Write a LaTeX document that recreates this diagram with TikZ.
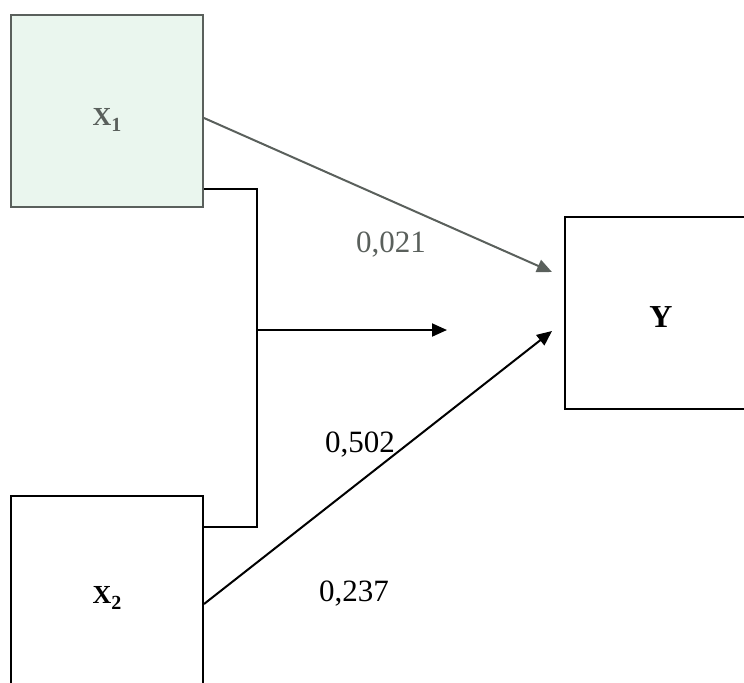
\documentclass[tikz,border=0pt]{standalone}
\usepackage{fontspec}
\setmainfont{Liberation Serif}
\usetikzlibrary{arrows.meta,calc}
\newcommand{\subidx}[1]{\raisebox{-3pt}{\fontsize{10}{12}\selectfont\bfseries #1}}
\begin{document}
\begin{tikzpicture}[x=0.5pt,y=-0.5pt,
  box/.style={draw, line width=1pt, minimum width=96pt, minimum height=96pt, inner sep=0pt},
  conn/.style={line width=1pt},
  arr/.style={conn, -{Triangle[length=7.5pt,width=6.5pt]}},
  coef/.style={font=\fontsize{15.5}{18}\selectfont, inner sep=0pt},
  var/.style={font=\fontsize{13}{16}\selectfont\bfseries, inner sep=0pt}]
\useasboundingbox (0,0) rectangle (744,682);
\definecolor{wm}{HTML}{EAF6EE}
\definecolor{dg}{HTML}{5A605C}
% boxes
\node[box, draw=dg, fill=wm] (X1) at (107,111) {};
\node[var, text=dg] (X1t) at (107,120) {X\subidx{1}};
\node[box] (X2) at (107,592) {};
\node[var] (X2t) at (107,598) {X\subidx{2}};
\node[box] (Y) at (661,313) {};
\node[var, font=\fontsize{16}{18}\selectfont\bfseries] (Yt) at (661,317) {Y};
% coordinates
\coordinate (a1) at ($(X1.east)+(0,7)$);
\coordinate (e1) at ($(Y.west)+(-12,-41)$);
\coordinate (a2) at ($(X2.east)+(0,12)$);
\coordinate (e2) at ($(Y.west)+(-12,18)$);
\coordinate (b1) at ($(X1.south east)+(0,-19)$);
\coordinate (b2) at ($(X2.north east)+(0,32)$);
\coordinate (j) at (257,330);
\coordinate (jend) at (447,330);
% connectors
\draw[arr, draw=dg, fill=dg] (a1) -- (e1);
\draw[arr] (a2) -- (e2);
\draw[conn] (b1) -| (j) |- (b2);
\draw[arr] (j) -- (jend);
% coefficients
\node[coef, text=dg] (c1) at (391,245) {0,021};
\node[coef] (c2) at (360,445) {0,502};
\node[coef] (c3) at (354,594) {0,237};
\end{tikzpicture}
\end{document}
